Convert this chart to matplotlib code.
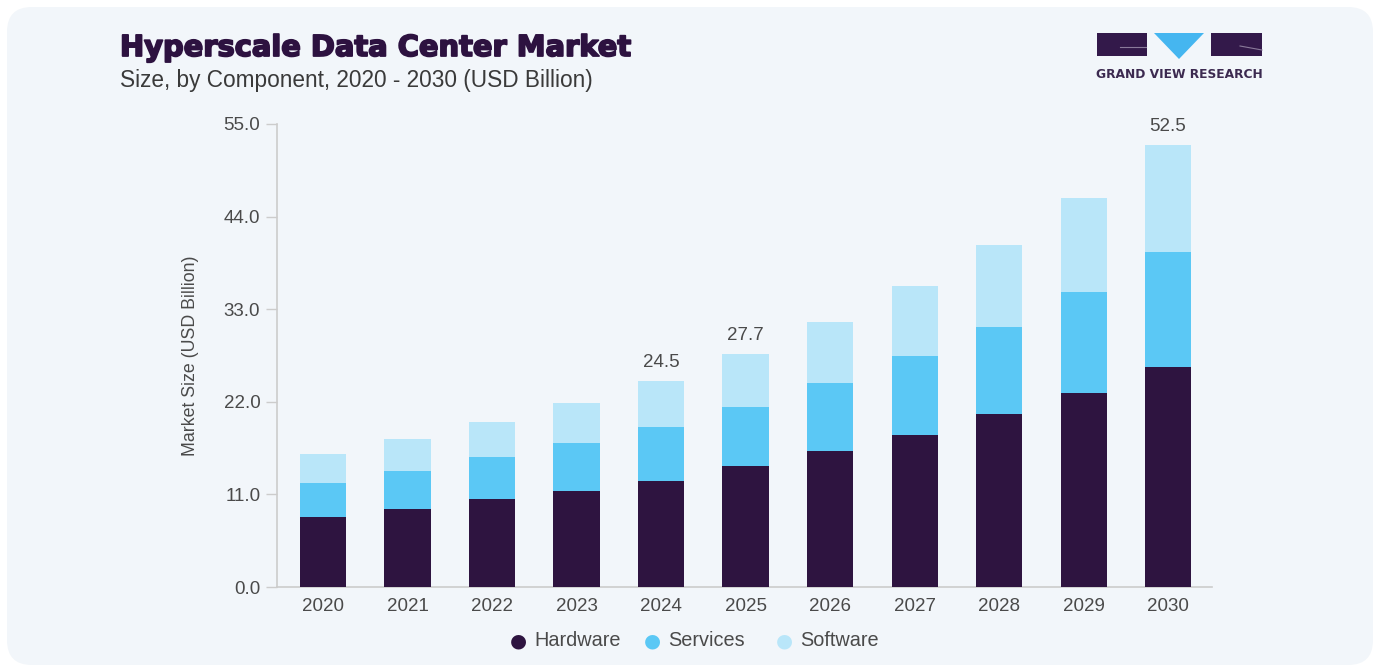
import numpy as np
import matplotlib.pyplot as plt
import matplotlib.patheffects as pe
from matplotlib.patches import FancyBboxPatch, Rectangle, Polygon

years = ['2020', '2021', '2022', '2023', '2024', '2025', '2026', '2027', '2028', '2029', '2030']
hardware = [8.3, 9.3, 10.4, 11.4, 12.6, 14.4, 16.2, 18.1, 20.6, 23.0, 26.1]
services = [4.0, 4.5, 5.0, 5.7, 6.4, 7.0, 8.0, 9.3, 10.3, 12.0, 13.7]
software = [3.5, 3.8, 4.2, 4.8, 5.5, 6.3, 7.3, 8.4, 9.7, 11.2, 12.7]
labelled = {'2024': '24.5', '2025': '27.7', '2030': '52.5'}
yticks = [0, 11, 22, 33, 44, 55]

c_hw = '#2e1440'
c_sv = '#5bc8f5'
c_sw = '#b9e6f9'
bg = '#f2f6fa'
txt = '#4a4a4a'

plt.rcParams['font.family'] = ['Liberation Sans', 'DejaVu Sans']

fig = plt.figure(figsize=(13.8, 6.7), dpi=100)
fig.patch.set_facecolor('white')

# rounded panel behind everything
panel = FancyBboxPatch((7 / 1380, 5 / 670), 1366 / 1380, 658 / 670,
                       boxstyle='round,pad=0,rounding_size=0.018',
                       transform=fig.transFigure, facecolor=bg, edgecolor='none',
                       mutation_aspect=1380 / 670, zorder=-10)
fig.patches.append(panel)

ax = fig.add_axes([277 / 1380, 1 - 587 / 670, 935 / 1380, 463 / 670])
ax.set_facecolor('none')
ax.set_zorder(2)

x = np.arange(len(years))
hw = np.array(hardware)
sv = np.array(services)
sw = np.array(software)
w = 0.545
ax.bar(x, hw, w, color=c_hw, label='Hardware', zorder=3)
ax.bar(x, sv, w, bottom=hw, color=c_sv, label='Services', zorder=3)
ax.bar(x, sw, w, bottom=hw + sv, color=c_sw, label='Software', zorder=3)

tot = hw + sv + sw
for i, yr in enumerate(years):
    if yr in labelled:
        ax.annotate(labelled[yr], (x[i], tot[i]), xytext=(0, 7), textcoords='offset points',
                    ha='center', va='bottom', fontsize=13.5, color=txt)

ax.set_xlim(-0.544, 10.52)
ax.set_ylim(0, 55)
ax.set_xticks(x)
ax.set_xticklabels(years, fontsize=13.5, color=txt)
ax.set_yticks(yticks)
ax.set_yticklabels(['%.1f' % v for v in yticks], fontsize=13.5, color=txt)
ax.tick_params(axis='x', length=0, pad=8)
ax.tick_params(axis='y', length=8, width=1, color='#cccccc', pad=4)

for s in ['top', 'right']:
    ax.spines[s].set_visible(False)
for s in ['left', 'bottom']:
    ax.spines[s].set_color('#cccccc')
    ax.spines[s].set_linewidth(1.2)

ax.set_ylabel('Market Size (USD Billion)', fontsize=12.8, color=txt, labelpad=18)

# legend with round markers
lx = [518, 652, 784]
labels = ['Hardware', 'Services', 'Software']
cols = [c_hw, c_sv, c_sw]
for px, lab, col in zip(lx, labels, cols):
    fig.text(px / 1380, 1 - 641 / 670, '\u25CF', color=col, fontsize=14,
             ha='center', va='center', family='DejaVu Sans')
    fig.text((px + 16) / 1380, 1 - 640 / 670, lab, color=txt, fontsize=14.3,
             ha='left', va='center')

# titles
fig.text(120 / 1380, 1 - 48 / 670, 'Hyperscale Data Center Market', fontsize=20.8,
         fontweight='heavy', color='#2d1240', family='DejaVu Sans', va='center',
         path_effects=[pe.withStroke(linewidth=1.3, foreground='#2d1240')])
fig.text(120 / 1380, 1 - 80 / 670, 'Size, by Component, 2020 - 2030 (USD Billion)',
         fontsize=16.3, color='#3a3a3a', va='center')

# logo
lc = '#33194a'
fig.patches.append(Rectangle((1097 / 1380, 1 - 56 / 670), 50 / 1380, 23 / 670,
                             transform=fig.transFigure, facecolor=lc, edgecolor='none'))
fig.patches.append(Rectangle((1211 / 1380, 1 - 56 / 670), 51 / 1380, 23 / 670,
                             transform=fig.transFigure, facecolor=lc, edgecolor='none'))
fig.patches.append(Polygon([(1154 / 1380, 1 - 33 / 670), (1204 / 1380, 1 - 33 / 670),
                            (1179 / 1380, 1 - 59 / 670)], closed=True,
                           transform=fig.transFigure, facecolor='#45b6f0', edgecolor='none'))
fig.lines.append(plt.Line2D([1120 / 1380, 1146 / 1380], [1 - 47 / 670, 1 - 47 / 670],
                            transform=fig.transFigure, color='#8a7a9a', lw=0.8))
fig.lines.append(plt.Line2D([1240 / 1380, 1262 / 1380], [1 - 46 / 670, 1 - 50 / 670],
                            transform=fig.transFigure, color='#8a7a9a', lw=0.8))
fig.text(1179.5 / 1380, 1 - 74 / 670, 'GRAND VIEW RESEARCH', fontsize=8.8,
         fontweight='bold', color='#3c2a50', ha='center', va='center', family='DejaVu Sans')

fig.savefig('out.png', dpi=100, facecolor=fig.get_facecolor())
